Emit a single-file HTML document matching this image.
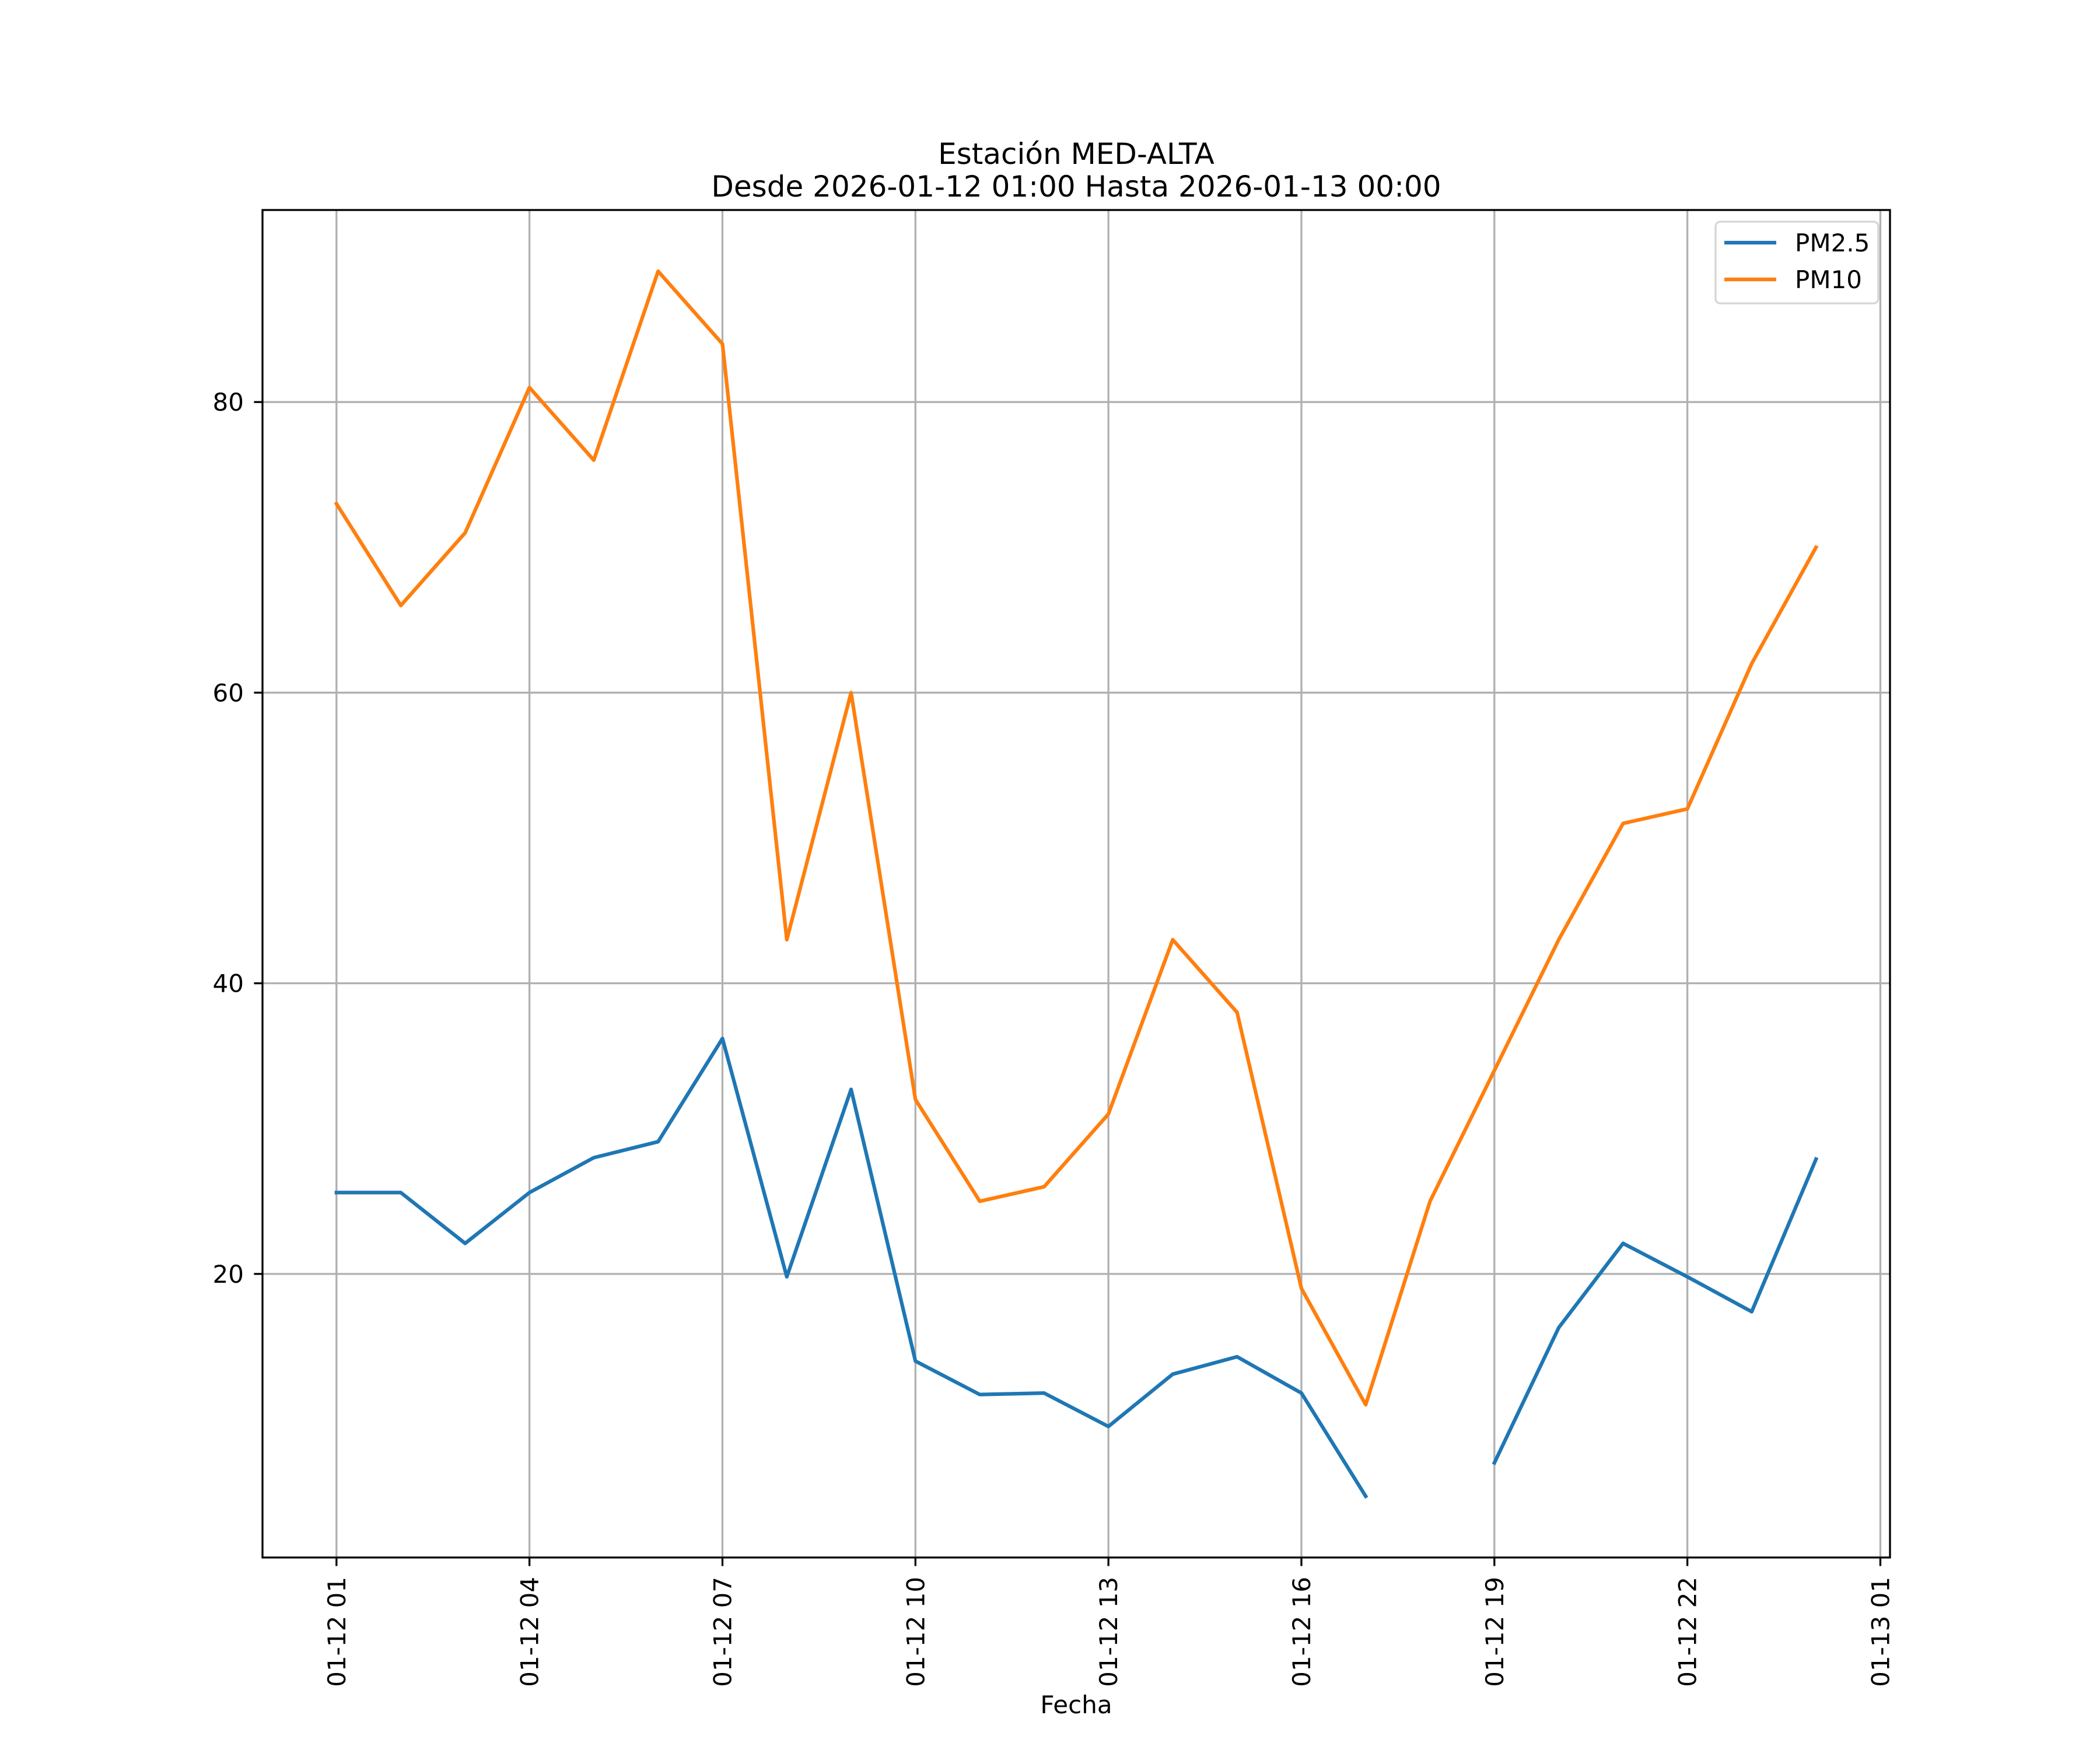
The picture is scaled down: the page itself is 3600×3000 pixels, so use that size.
<!DOCTYPE html>
<html><head><meta charset="utf-8"><style>
html,body{margin:0;padding:0;background:#fff;}
svg{display:block;font-family:"DejaVu Sans","Liberation Sans",sans-serif;}
</style></head><body>
<svg id="chart" width="3600" height="3000" viewBox="0 0 3600 3000" xmlns="http://www.w3.org/2000/svg">
<rect width="3600" height="3000" fill="#fff"/>
<text x="1845" y="281" font-size="50" text-anchor="middle">Estación MED-ALTA</text>
<text x="1845" y="337" font-size="50" text-anchor="middle">Desde 2026-01-12 01:00 Hasta 2026-01-13 00:00</text>
<g id="grid"></g>
<g id="series"></g>
<rect x="450" y="360" width="2790" height="2310" fill="none" stroke="#000" stroke-width="3.3"/>
<g id="ticks"></g>
<text x="1845" y="2937" font-size="42" text-anchor="middle">Fecha</text>
<g>
<rect x="2941" y="380" width="279" height="140" rx="8" fill="#fff" fill-opacity="0.8" stroke="#d6d6d6" stroke-width="3.3"/>
<line x1="2956" y1="416" x2="3045" y2="416" stroke="#1f77b4" stroke-width="6.25"/>
<text x="3077" y="431" font-size="42">PM2.5</text>
<line x1="2956" y1="479" x2="3045" y2="479" stroke="#ff7f0e" stroke-width="6.25"/>
<text x="3077" y="494" font-size="42">PM10</text>
</g>
</svg>
<script>
const hours = [1,2,3,4,5,6,7,8,9,10,11,12,13,14,15,16,17,18,19,20,21,22,23,24];
const pm25 = [25.6,25.6,22.1,25.6,28.0,29.1,36.2,19.8,32.7,14.0,11.7,11.8,9.5,13.1,14.3,11.8,4.7,null,7.0,16.3,22.1,19.8,17.4,27.9];
const pm10 = [73,66,71,81,76,89,84,43,60,32,25,26,31,43,38,19,11,25,34,43,51,52,62,70];
const xTickHours = [1,4,7,10,13,16,19,22,25];
const xTickLabels = ["01-12 01","01-12 04","01-12 07","01-12 10","01-12 13","01-12 16","01-12 19","01-12 22","01-13 01"];
const yTicks = [20,40,60,80];

const NS = "http://www.w3.org/2000/svg";
const L = 450, R = 3240, T = 360, B = 2670;
const all = pm25.concat(pm10).filter(v => v !== null);
const ymin0 = Math.min(...all), ymax0 = Math.max(...all);
const ym = (ymax0 - ymin0) * 0.05;
const y0 = ymin0 - ym, y1 = ymax0 + ym;
const xm = (hours[hours.length-1] - hours[0]) * 0.05;
const x0 = hours[0] - xm, x1 = hours[hours.length-1] + xm;
const sx = v => L + (v - x0) / (x1 - x0) * (R - L);
const sy = v => B - (v - y0) / (y1 - y0) * (B - T);
function mk(tag, attrs, parent) {
  const e = document.createElementNS(NS, tag);
  for (const k in attrs) e.setAttribute(k, attrs[k]);
  parent.appendChild(e);
  return e;
}
const grid = document.getElementById('grid');
const ticks = document.getElementById('ticks');
const series = document.getElementById('series');
xTickHours.forEach((h, i) => {
  const x = sx(h);
  if (x <= R) {
    const g = mk('line', {x1:x, y1:T, x2:x, y2:B, stroke:'#b0b0b0', 'stroke-width':3.3}, grid);
    
    
  }
  const t = mk('line', {x1:x, y1:B, x2:x, y2:B+14.6, stroke:'#000', 'stroke-width':3.3}, ticks);
  
  
  const lb = mk('text', {x:x+15, y:2703, 'font-size':42, 'text-anchor':'end', transform:`rotate(-90 ${x+15} 2703)`}, ticks);
  lb.textContent = xTickLabels[i];
  
  
});
yTicks.forEach(v => {
  const y = sy(v);
  const g = mk('line', {x1:L, y1:y, x2:R, y2:y, stroke:'#b0b0b0', 'stroke-width':3.3}, grid);
  
  
  const t = mk('line', {x1:L-14.6, y1:y, x2:L, y2:y, stroke:'#000', 'stroke-width':3.3}, ticks);
  
  
  const lb = mk('text', {x:418, y:y+15, 'font-size':42, 'text-anchor':'end'}, ticks);
  lb.textContent = v;
  
  
});
function drawSeries(vals, color, name) {
  let segs = [], cur = [];
  vals.forEach((v, i) => {
    if (v === null) { if (cur.length) segs.push(cur); cur = []; }
    else cur.push(sx(hours[i]).toFixed(1) + ',' + sy(v).toFixed(1));
  });
  if (cur.length) segs.push(cur);
  segs.forEach(s => {
    const p = mk('polyline', {points:s.join(' '), fill:'none', stroke:color, 'stroke-width':6.25, 'stroke-linejoin':'round', 'stroke-linecap':'square'}, series);
    
    
  });
}
drawSeries(pm25, '#1f77b4', 'pm25-line');
drawSeries(pm10, '#ff7f0e', 'pm10-line');
</script>
</body></html>
